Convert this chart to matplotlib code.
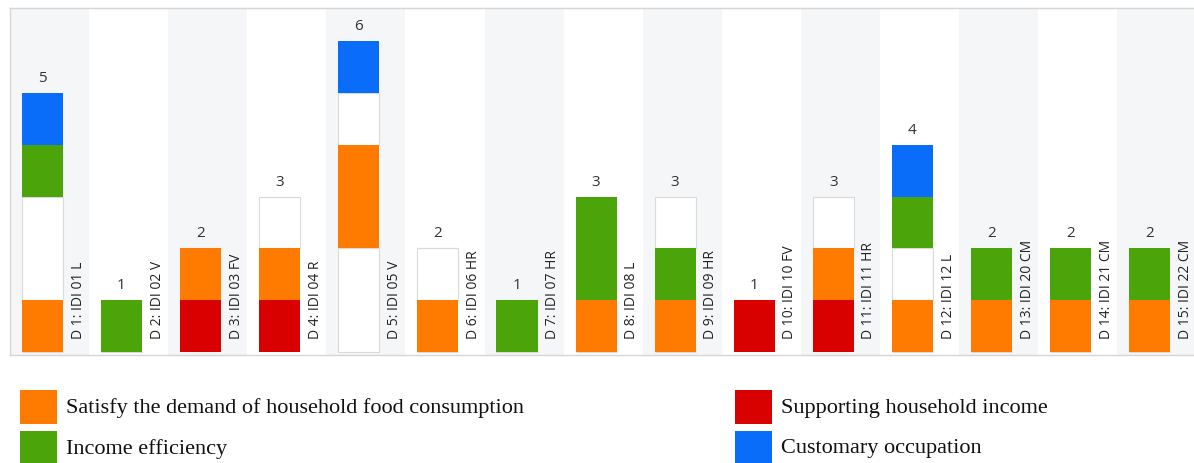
import numpy as np
import matplotlib.pyplot as plt
from matplotlib.patches import Rectangle

# Interviews (x axis)
labels = ["D 1: IDI 01 L", "D 2: IDI 02 V", "D 3: IDI 03 FV", "D 4: IDI 04 R",
          "D 5: IDI 05 V", "D 6: IDI 06 HR", "D 7: IDI 07 HR", "D 8: IDI 08 L",
          "D 9: IDI 09 HR", "D 10: IDI 10 FV", "D 11: IDI 11 HR", "D 12: IDI 12 L",
          "D 13: IDI 20 CM", "D 14: IDI 21 CM", "D 15: IDI 22 CM"]

# Coded mentions per interview, stacked bottom to top in this order
supporting = [0, 0, 1, 1, 0, 0, 0, 0, 0, 1, 1, 0, 0, 0, 0]
blank_low = [0, 0, 0, 0, 2, 0, 0, 0, 0, 0, 0, 0, 0, 0, 0]
food = [1, 0, 1, 1, 2, 1, 0, 1, 1, 0, 1, 1, 1, 1, 1]
blank_mid = [2, 0, 0, 1, 1, 1, 0, 0, 0, 0, 1, 1, 0, 0, 0]
efficiency = [1, 1, 0, 0, 0, 0, 1, 2, 1, 0, 0, 1, 1, 1, 1]
blank_top = [0, 0, 0, 0, 0, 0, 0, 0, 1, 0, 0, 0, 0, 0, 0]
customary = [1, 0, 0, 0, 1, 0, 0, 0, 0, 0, 0, 1, 0, 0, 0]

ORANGE = "#ff7b00"
GREEN = "#4aa40a"
RED = "#d90000"
BLUE = "#0a6dfa"

series = [
    (supporting, RED),
    (blank_low, None),
    (food, ORANGE),
    (blank_mid, None),
    (efficiency, GREEN),
    (blank_top, None),
    (customary, BLUE),
]

legend_items = [
    ("Satisfy the demand of household food consumption", ORANGE),
    ("Income efficiency", GREEN),
    ("Supporting household income", RED),
    ("Customary occupation", BLUE),
]

W, H = 1194, 463
fig = plt.figure(figsize=(W / 100, H / 100), dpi=100)
ax = fig.add_axes([10 / W, (H - 355) / H, 1 - 10 / W, (355 - 8) / H])

n = len(labels)
x = np.arange(n)
bar_x = x + 0.41
bar_w = 0.52

# alternating column bands
for i in range(n):
    if i % 2 == 0:
        ax.axvspan(i, i + 1, color="#f5f6f8", zorder=0, lw=0)

bottom = np.zeros(n)
for vals, color in series:
    vals = np.array(vals)
    if color is None:
        ax.bar(bar_x, vals, bar_w, bottom=bottom, color="white",
               edgecolor="#dadada", linewidth=0.8, zorder=2)
    else:
        ax.bar(bar_x, vals, bar_w, bottom=bottom, color=color,
               edgecolor="none", zorder=3)
    bottom += vals

totals = bottom
for i in range(n):
    ax.annotate(str(int(totals[i])), (bar_x[i], totals[i]), xytext=(0, 5),
                textcoords="offset points", ha="center", va="bottom",
                fontsize=11, color="#333333", family="Open Sans")
    ax.annotate(labels[i], (x[i] + 0.86, 0), xytext=(0, 9),
                textcoords="offset points", ha="center", va="bottom",
                rotation=90, fontsize=10, color="#222222", family="Open Sans")

ax.set_xlim(0, 14.97)
ax.set_ylim(-0.058, 6.64)
ax.set_xticks([])
ax.set_yticks([])
for side in ["top", "left", "bottom"]:
    ax.spines[side].set_color("#d6d6d6")
    ax.spines[side].set_linewidth(1)
ax.spines["right"].set_visible(False)

# legend below the plot, two columns
col_x = [20, 735]
row_y = [390, 431]
for k, (text, color) in enumerate(legend_items):
    px = col_x[k // 2]
    py = row_y[k % 2]
    fig.patches.append(Rectangle((px / W, 1 - (py + 34) / H), 37 / W, 34 / H,
                                 transform=fig.transFigure, facecolor=color,
                                 edgecolor="none"))
    fig.text((px + 46) / W, 1 - (py + 18) / H, text, ha="left", va="center",
             fontsize=16, family="Liberation Serif", color="#111111")

fig.savefig("out.png", dpi=100)
